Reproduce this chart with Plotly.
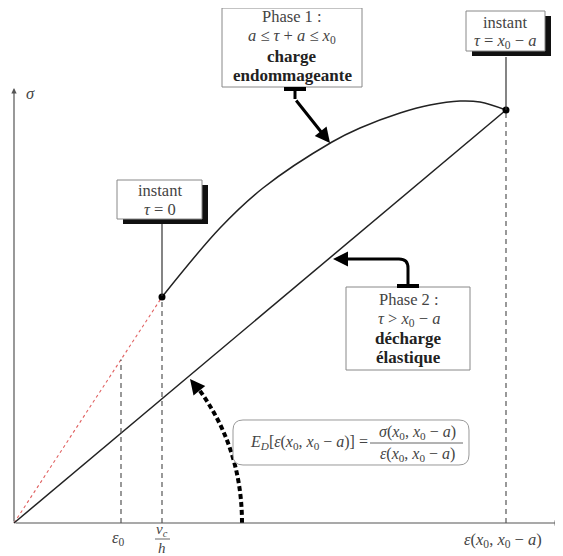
import numpy as np
import plotly.graph_objects as go

# schematic values (arbitrary units, origin at 0)
eps_0 = 107            # epsilon_0
eps_vc = 148           # v_c / h
sig_vc = 226
eps_end = 492          # epsilon(x0, x0 - a)
sig_end = 413

# phase 1 : damaging load
eps_charge = [148, 206, 249, 318, 346, 386, 416, 446, 466, 492]
sig_charge = [226, 295, 335, 381, 395, 410, 418, 422, 421, 413]

# elastic part before tau = 0 (red dotted)
eps_elastic = [0, 148]
sig_elastic = [0, 226]

# phase 2 : elastic unload (secant)
eps_unload = [0, 492]
sig_unload = [0, 413]

W, H = 563, 556
PAD = 8                # page body margin
OX, OY = 14, 523       # origin in pixels
FONT = "Liberation Serif"
GREY = "#555"
TXT = "#444"


def P(x, y):
    return (x - PAD) / (W - PAD), 1 - (y - PAD) / (H - PAD)


def path(pts):
    out = []
    for cmd, *xy in pts:
        coords = " ".join(f"{P(xy[i], xy[i + 1])[0]:.5f},{P(xy[i], xy[i + 1])[1]:.5f}" for i in range(0, len(xy), 2))
        out.append(f"{cmd}{coords}")
    return " ".join(out)


fig = go.Figure()

fig.add_trace(go.Scatter(x=eps_elastic, y=sig_elastic, mode='lines',
                         line=dict(color='#e06060', width=1.1, dash='dot')))
fig.add_trace(go.Scatter(x=eps_unload, y=sig_unload, mode='lines',
                         line=dict(color='#222', width=1.5)))
fig.add_trace(go.Scatter(x=eps_charge, y=sig_charge, mode='lines',
                         line=dict(color='#222', width=1.5, shape='spline', smoothing=1)))

# vertical dashed guides
sig_eps0 = float(np.interp(eps_0, eps_elastic, sig_elastic))
for ex, top in [(eps_0, sig_eps0), (eps_vc, sig_vc), (eps_end, sig_end)]:
    fig.add_trace(go.Scatter(x=[ex, ex], y=[0, top], mode='lines',
                             line=dict(color=GREY, width=1.2, dash='5px,4px')))

fig.add_trace(go.Scatter(x=[eps_vc, eps_end], y=[sig_vc, sig_end], mode='markers',
                         marker=dict(color='black', size=7)))

shapes = []
annotations = []


def text(x, y, s, size=16.5, color=TXT, anchor='center'):
    px, py = P(x, y)
    annotations.append(dict(x=px, y=py, xref='paper', yref='paper', text=s, showarrow=False,
                            xanchor=anchor, yanchor='middle',
                            font=dict(family=FONT, size=size, color=color)))


def arrow(tip, tail, width=3, color='black', head=2, size=1.0):
    px, py = P(*tip)
    annotations.append(dict(x=px, y=py, xref='paper', yref='paper', text='', showarrow=True,
                            ax=tail[0] - tip[0], ay=tail[1] - tip[1], axref='pixel', ayref='pixel',
                            arrowhead=head, arrowsize=size, arrowwidth=width, arrowcolor=color,
                            standoff=0, startstandoff=0))


def line(p0, p1, width=1.2, color=GREY, dash=None):
    a, b = P(*p0), P(*p1)
    shapes.append(dict(type='line', xref='paper', yref='paper', x0=a[0], y0=a[1], x1=b[0], y1=b[1],
                       line=dict(color=color, width=width, dash=dash), layer='above'))


def box(x0, y0, x1, y1, shadow=False):
    if shadow:
        a, b = P(x0 + 6, y0 + 5), P(x1 + 6, y1 + 5)
        shapes.append(dict(type='rect', xref='paper', yref='paper', x0=a[0], y0=a[1], x1=b[0], y1=b[1],
                           fillcolor='#111', line=dict(width=0), layer='above'))
    a, b = P(x0, y0), P(x1, y1)
    shapes.append(dict(type='rect', xref='paper', yref='paper', x0=a[0], y0=a[1], x1=b[0], y1=b[1],
                       fillcolor='white', line=dict(color='#888', width=1), layer='above'))


X0S = "<i>x</i><sub>0</sub>"
ARG = f"({X0S}, {X0S} − <i>a</i>)"

# axes
arrow((560, OY), (OX, OY), width=1.2, color=GREY, head=2, size=0.9)
arrow((OX, 88), (OX, OY), width=1.2, color=GREY, head=2, size=0.9)
text(30, 93, "<i>σ</i>")
text(118, 538, "<i>ε</i><sub>0</sub>")
text(162, 530, "<i>v</i><sub><i>c</i></sub>", size=15)
line((155, 539), (170, 539), width=1, color='#666')
text(162, 548, "<i>h</i>", size=15)
text(503, 540, f"<i>ε</i>{ARG}")

# instant tau = 0
line((162, 224), (162, 296), width=1.2, color='#333')
box(117, 180, 202, 219, shadow=True)
text(160, 191, "instant")
text(160, 209, "<i>τ</i> = 0")

# instant tau = x0 - a
line((506, 57), (506, 110), width=1.2, color='#333')
box(466, 11, 545, 51, shadow=True)
text(505, 22, "instant")
text(505, 41, f"<i>τ</i> = {X0S} − <i>a</i>")

# phase 1 box and arrow
box(222, 8, 362, 87)
text(292, 17, "Phase 1 :")
text(292, 36, f"<i>a</i> ≤ <i>τ</i> + <i>a</i> ≤ {X0S}")
text(292, 56, "<b>charge</b>", size=17, color='#222')
text(292, 75, "<b>endommageante</b>", size=17, color='#222')
line((284, 89), (306, 89), width=4, color='black')
line((295, 89), (295, 99), width=3, color='black')
arrow((330, 143), (295, 99), width=3)

# phase 2 box and arrow
box(346, 287, 470, 370)
text(409, 299, "Phase 2 :")
text(409, 319, f"<i>τ</i> > {X0S} − <i>a</i>")
text(409, 338, "<b>décharge</b>", size=17, color='#222')
text(409, 357, "<b>élastique</b>", size=17, color='#222')
line((397, 286), (419, 286), width=4, color='black')
shapes.append(dict(type='path', xref='paper', yref='paper', layer='above',
                   path=path([('M', 408, 286), ('L', 408, 268), ('Q', 408, 259, 399, 259), ('L', 345, 259)]),
                   line=dict(color='black', width=3)))
arrow((333, 259), (347, 259), width=3)

# secant modulus: dashed arc and formula
shapes.append(dict(type='path', xref='paper', yref='paper', layer='above',
                   path=path([('M', 242, 523), ('Q', 242, 444, 194, 383)]),
                   line=dict(color='black', width=4, dash='5px,3px')))
arrow((190, 379), (198, 389), width=3)

r = 10
x0, y0, x1, y1 = 233, 420, 469, 465
shapes.append(dict(type='path', xref='paper', yref='paper', layer='above', fillcolor='white',
                   path=path([('M', x0 + r, y0), ('L', x1 - r, y0), ('Q', x1, y0, x1, y0 + r), ('L', x1, y1 - r),
                              ('Q', x1, y1, x1 - r, y1), ('L', x0 + r, y1), ('Q', x0, y1, x0, y1 - r),
                              ('L', x0, y0 + r), ('Q', x0, y0, x0 + r, y0)]) + " Z",
                   line=dict(color='#999', width=1)))
text(248, 442, f"<i>E</i><sub><i>D</i></sub>[<i>ε</i>{ARG}] =", size=16, anchor='left')
text(417, 432, f"<i>σ</i>{ARG}", size=16)
line((370, 443), (463, 443), width=1, color='#666')
text(417, 454, f"<i>ε</i>{ARG}", size=16)

fig.update_layout(
    width=W - PAD, height=H - PAD, showlegend=False,
    margin=dict(l=0, r=0, t=0, b=0),
    plot_bgcolor='white', paper_bgcolor='white',
    xaxis=dict(range=[PAD - OX, W - OX], visible=False, fixedrange=True),
    yaxis=dict(range=[OY - H, OY - PAD], visible=False, fixedrange=True),
    shapes=shapes, annotations=annotations,
)

fig.write_html("out.html")
